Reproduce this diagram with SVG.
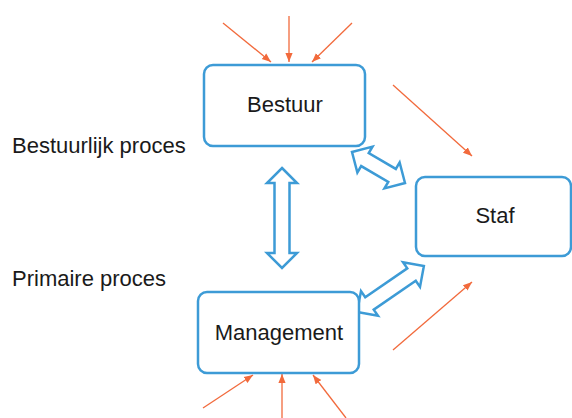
<svg xmlns="http://www.w3.org/2000/svg" width="572" height="418" viewBox="0 0 572 418">
  <style>
    .box { fill: #ffffff; stroke: #3d9bd6; stroke-width: 2.5; }
    .lbl { font-family: "Liberation Sans", Arial, sans-serif; font-size: 22px; fill: #1a1a1a; }
    .ctr { text-anchor: middle; }
    .inflow { stroke: #f26a3c; stroke-width: 1.3; fill: none; marker-end: url(#ah); }
    .block { fill: #ffffff; stroke: #3d9bd6; stroke-width: 2.5; stroke-linejoin: miter; }
  </style>
  <defs>
    <marker id="ah" viewBox="0 0 10 10" refX="10" refY="5" markerWidth="9" markerHeight="9" markerUnits="userSpaceOnUse" orient="auto">
      <path d="M0,1 L10,5 L0,9 Z" fill="#f26a3c"/>
    </marker>
  </defs>
  <rect width="572" height="418" fill="#ffffff"/>

  <g id="connectors">
    <line class="inflow" x1="223" y1="23" x2="271" y2="62"/>
    <line class="inflow" x1="289" y1="16" x2="289" y2="62"/>
    <line class="inflow" x1="352" y1="23" x2="312" y2="62"/>
    <line class="inflow" x1="393" y1="85" x2="472" y2="156"/>
    <line class="inflow" x1="393" y1="350" x2="472" y2="282"/>
    <line class="inflow" x1="203" y1="408" x2="253" y2="375"/>
    <line class="inflow" x1="282" y1="418" x2="282" y2="374"/>
    <line class="inflow" x1="346" y1="418" x2="313" y2="375"/>
    <polygon class="block" transform="translate(282,218) rotate(90)" points="-50,0 -35,-15 -35,-7.5 35,-7.5 35,-15 50,0 35,15 35,7.5 -35,7.5 -35,15"/>
    <polygon class="block" transform="translate(378.5,167.5) rotate(30.3)" points="-30.7,0 -15.7,-15 -15.7,-7.5 15.7,-7.5 15.7,-15 30.7,0 15.7,15 15.7,7.5 -15.7,7.5 -15.7,15"/>
    <polygon class="block" transform="translate(390.5,289) rotate(-34.5)" points="-40.5,0 -25.5,-15 -25.5,-7.5 25.5,-7.5 25.5,-15 40.5,0 25.5,15 25.5,7.5 -25.5,7.5 -25.5,15"/>
  </g>

  <g id="bestuur">
    <rect class="box" x="204" y="65" width="161" height="81" rx="9"/>
    <text class="lbl ctr" x="285" y="112">Bestuur</text>
  </g>
  <g id="staf">
    <rect class="box" x="416" y="177" width="155" height="79" rx="9"/>
    <text class="lbl ctr" x="495" y="223">Staf</text>
  </g>
  <g id="management">
    <rect class="box" x="198" y="292" width="161" height="81" rx="9"/>
    <text class="lbl ctr" x="279" y="340">Management</text>
  </g>
  <g id="labels">
    <text class="lbl" x="12" y="153">Bestuurlijk proces</text>
    <text class="lbl" x="12" y="286">Primaire proces</text>
  </g>
</svg>
